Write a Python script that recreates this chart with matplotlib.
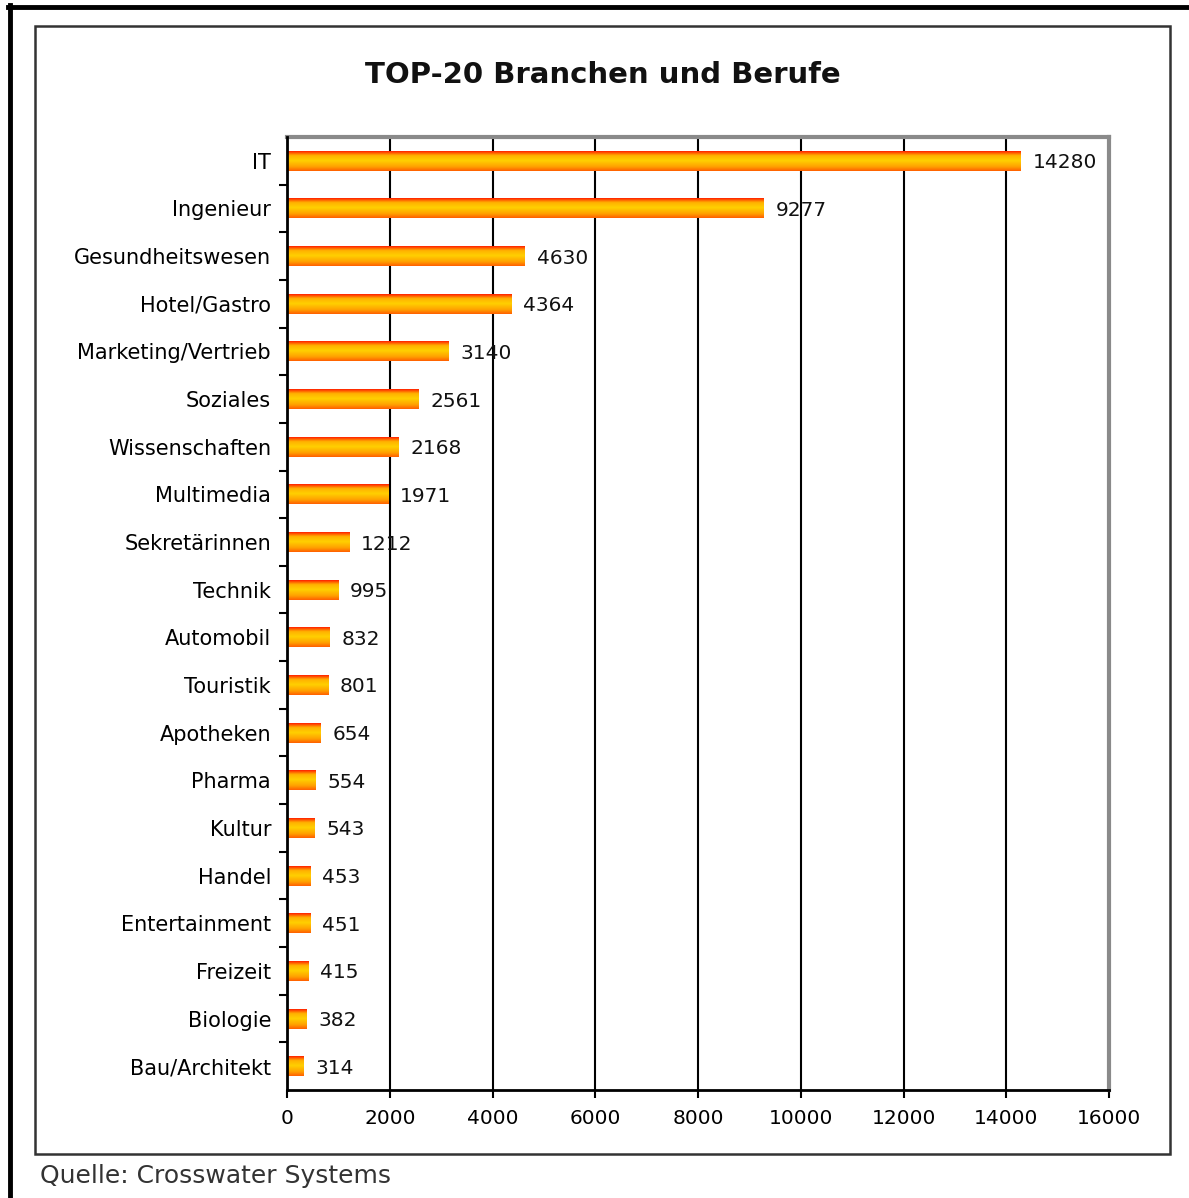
import matplotlib.pyplot as plt
import numpy as np
from matplotlib.colors import LinearSegmentedColormap
from matplotlib.patches import Rectangle
from matplotlib.lines import Line2D

plt.rcParams['font.family'] = ['DejaVu Sans']

# data
branchen = ['IT', 'Ingenieur', 'Gesundheitswesen', 'Hotel/Gastro', 'Marketing/Vertrieb',
            'Soziales', 'Wissenschaften', 'Multimedia', 'Sekretärinnen', 'Technik',
            'Automobil', 'Touristik', 'Apotheken', 'Pharma', 'Kultur',
            'Handel', 'Entertainment', 'Freizeit', 'Biologie', 'Bau/Architekt']
werte = [14280, 9277, 4630, 4364, 3140, 2561, 2168, 1971, 1212, 995,
         832, 801, 654, 554, 543, 453, 451, 415, 382, 314]
xticks = [0, 2000, 4000, 6000, 8000, 10000, 12000, 14000, 16000]

fig = plt.figure(figsize=(11.89, 11.98), dpi=100)
ax = fig.add_axes([287/1189, 108/1198, 822/1189, 953/1198])

# gradient red -> yellow -> orange (top to bottom)
cmap = LinearSegmentedColormap.from_list('bar', [(0, '#ff0000'), (0.25, '#ffb000'),
                                                  (0.5, '#ffd000'), (0.8, '#ffa000'),
                                                  (1, '#ff6000')])
grad = np.linspace(0, 1, 64).reshape(-1, 1)
h = 0.42
y = np.arange(len(branchen))
bars = ax.barh(y, werte, height=h, color='none', edgecolor='none', zorder=3)
for b in bars:
    x0, y0 = b.get_x(), b.get_y()
    w, hh = b.get_width(), b.get_height()
    im = ax.imshow(grad, cmap=cmap, aspect='auto', extent=[x0, x0 + w, y0 + hh, y0],
                   zorder=3, interpolation='bilinear')
    im.set_clip_path(b)

for yi, v in zip(y, werte):
    ax.text(v + 230, yi, str(v), va='center_baseline', ha='left', fontsize=14.5,
            color='#111111', zorder=4)

ax.set_xlim(0, 16000)
ax.set_ylim(len(branchen) - 0.5, -0.5)
ax.set_xticks(xticks)
ax.set_xticklabels([str(t) for t in xticks], fontsize=14.5)
ax.set_yticks(y)
ax.set_yticklabels(branchen, fontsize=15, va='center_baseline')
ax.set_yticks(np.arange(-0.5, len(branchen), 1)[1:-1], minor=True)
ax.tick_params(axis='y', which='major', length=0, pad=11.5)
ax.tick_params(axis='y', which='minor', length=6, width=1.5, color='black')
ax.tick_params(axis='x', length=6, width=1.5, pad=8)
ax.set_axisbelow(True)
ax.grid(axis='x', color='black', linewidth=1.5, zorder=1)
for s in ['left', 'bottom']:
    ax.spines[s].set_linewidth(2)
    ax.spines[s].set_color('black')
    ax.spines[s].set_zorder(5)
for s in ['top', 'right']:
    ax.spines[s].set_linewidth(3)
    ax.spines[s].set_color('#8a8a8a')

fig.text(603/1189, 1 - 75/1198, 'TOP-20 Branchen und Berufe', ha='center', va='center',
         fontsize=21, fontweight='bold', color='#111111')
fig.text(40/1189, 1 - 1176/1198, 'Quelle: Crosswater Systems', ha='left', va='center',
         fontsize=18, color='#333333')

# inner frame and outer black lines
fig.patches.append(Rectangle((35/1189, 1 - 1154/1198), (1170 - 35)/1189, (1154 - 26)/1198,
                             transform=fig.transFigure, fill=False, edgecolor='#333333',
                             linewidth=1.8))
fig.lines.append(Line2D([8/1189, 1], [1 - 7/1198, 1 - 7/1198], transform=fig.transFigure,
                        color='black', linewidth=3.5))
fig.lines.append(Line2D([10/1189, 10/1189], [0, 1 - 5/1198], transform=fig.transFigure,
                        color='black', linewidth=3.5))

fig.savefig('out.png', dpi=100)
